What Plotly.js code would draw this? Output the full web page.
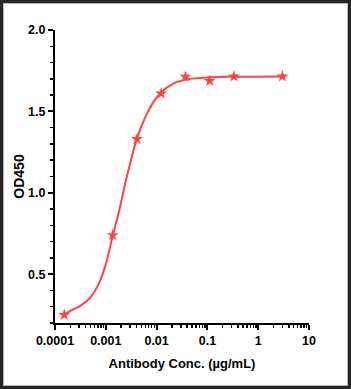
<!DOCTYPE html>
<html>
<head>
<meta charset="utf-8">
<script src="https://cdn.plot.ly/plotly-3.0.1.min.js"></script>
<style>
  html, body { margin: 0; padding: 0; background: #fff; }
  #wrap { position: relative; width: 351px; height: 389px; overflow: hidden; }
  #chart { position: absolute; left: 0; top: 0; width: 351px; height: 389px; }
  #frame { position: absolute; left: 0; top: 0; width: 351px; height: 389px; box-sizing: border-box;
           border: 3px solid #262626; box-shadow: inset 0 0 0 1px #b5b5b5; pointer-events: none; }
</style>
</head>
<body>
<div id="wrap"><div id="chart"></div><div id="frame"></div></div>
<script>
// Measured points (antibody concentration, ug/mL) and OD450
const conc = [0.000152, 0.00137, 0.00412, 0.0123, 0.037, 0.111, 0.333, 3.0];
const od450 = [0.25, 0.74, 1.33, 1.61, 1.713, 1.687, 1.715, 1.715];

// Fitted curve
const fitConc = [0.00015, 0.0002, 0.00032, 0.0005, 0.00072, 0.00098, 0.00138, 0.00192, 0.00241, 0.0028,
                 0.0041, 0.006, 0.00865, 0.0122, 0.0213, 0.039, 0.112, 0.316, 3.0];
const fitOD = [0.25, 0.274, 0.307, 0.358, 0.439, 0.551, 0.740, 0.916, 1.059, 1.140,
               1.334, 1.465, 1.557, 1.616, 1.671, 1.696, 1.709, 1.713, 1.715];

// Tick labels
const xTickVals = [0.0001, 0.001, 0.01, 0.1, 1, 10];
const xTickText = ['0.0001', '0.001', '0.01', '0.1', '1', '10'];
const yTickVals = [0.5, 1.0, 1.5, 2.0];
const yTickText = ['0.5', '1.0', '1.5', '2.0'];

const red = '#ff4242';
const font = 'Liberation Sans, Arial, sans-serif';

const xMinor = [];
for (let e = -4; e < 1; e++) {
  for (let d = 2; d <= 9; d++) xMinor.push(d * Math.pow(10, e));
}

const traces = [
  {
    x: fitConc, y: fitOD, type: 'scatter', mode: 'lines',
    line: { color: red, width: 2, shape: 'spline', smoothing: 1 },
    hoverinfo: 'skip', showlegend: false
  },
  {
    x: conc, y: od450, type: 'scatter', mode: 'markers',
    marker: { symbol: 'star', size: 9, color: red, line: { width: 0 } },
    showlegend: false
  }
];

const layout = {
  width: 351, height: 389,
  margin: { l: 55, r: 42, t: 29.5, b: 65.5 },
  paper_bgcolor: '#fff', plot_bgcolor: '#fff',
  showlegend: false,
  font: { family: font, color: '#000' },
  xaxis: {
    type: 'log', range: [-4, 1],
    tickvals: xTickVals, ticktext: xTickText,
    ticks: 'outside', ticklen: 5, tickwidth: 2, tickcolor: '#000',
    showline: true, linewidth: 2, linecolor: '#000',
    showgrid: false, zeroline: false,
    tickfont: { family: font, size: 12.5, weight: 'bold', color: '#000' },
    minor: { tickvals: xMinor, ticks: 'outside', ticklen: 3, tickwidth: 1.5, tickcolor: '#000', showgrid: false },
    title: { text: 'Antibody Conc. (µg/mL)', font: { family: font, size: 13, weight: 'bold', color: '#000' }, standoff: 12 }
  },
  yaxis: {
    range: [0.2, 2.0],
    tickvals: yTickVals, ticktext: yTickText,
    ticks: 'outside', ticklen: 5, tickwidth: 2, tickcolor: '#000',
    showline: true, linewidth: 2, linecolor: '#000',
    showgrid: false, zeroline: false,
    tickfont: { family: font, size: 12.5, weight: 'bold', color: '#000' },
    minor: { dtick: 0.1, ticks: 'outside', ticklen: 3, tickwidth: 1.5, tickcolor: '#000', showgrid: false },
    title: { text: 'OD450', font: { family: font, size: 14, weight: 'bold', color: '#000' }, standoff: 0 }
  }
};

Plotly.newPlot('chart', traces, layout, { displayModeBar: false, staticPlot: true });
</script>
</body>
</html>
